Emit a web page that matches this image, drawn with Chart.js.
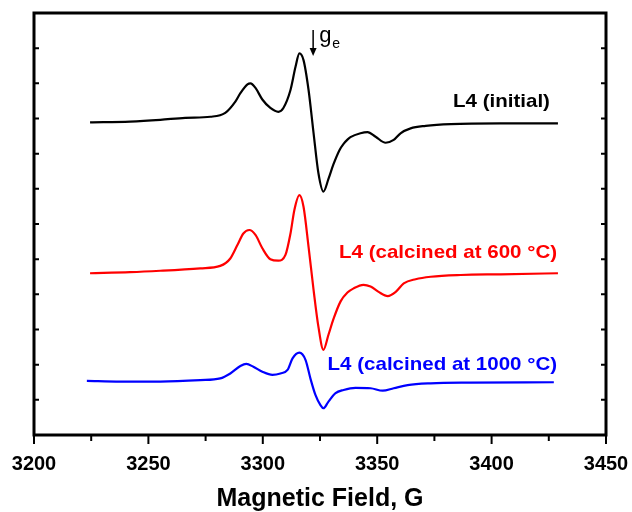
<!DOCTYPE html>
<html>
<head>
<meta charset="utf-8">
<script src="https://cdn.jsdelivr.net/npm/chart.js@4.4.0/dist/chart.umd.min.js"></script>
<style>
  html, body { margin: 0; padding: 0; background: #fff; }
</style>
</head>
<body>
<canvas id="epr" width="632" height="512"></canvas>
<script>
// field (G) and signal (arb. units, stacked)
const fieldInitial = [3224.5, 3242.0, 3255.2, 3266.1, 3277.1, 3283.6, 3288.0, 3290.2, 3293.3, 3294.6, 3296.8, 3299.8, 3303.3, 3306.8, 3309.0, 3312.1, 3314.3, 3316.0, 3317.8, 3320.0, 3322.2, 3324.3, 3326.5, 3328.7, 3330.9, 3333.5, 3335.3, 3337.0, 3338.3, 3342.7, 3345.8, 3349.3, 3353.7, 3357.2, 3360.2, 3364.6, 3371.2, 3382.1, 3404.0, 3429.0];
const signalInitial = [8.89, 8.91, 8.96, 9.02, 9.05, 9.16, 9.48, 9.72, 9.97, 10.00, 9.87, 9.54, 9.30, 9.19, 9.30, 9.81, 10.47, 10.85, 10.66, 9.81, 8.58, 7.45, 6.92, 7.28, 7.70, 8.10, 8.28, 8.40, 8.47, 8.58, 8.61, 8.48, 8.31, 8.39, 8.58, 8.72, 8.79, 8.84, 8.86, 8.86];

const field600 = [3224.5, 3242.0, 3255.2, 3272.7, 3281.4, 3285.8, 3288.9, 3291.5, 3294.1, 3296.8, 3299.8, 3303.3, 3306.8, 3309.9, 3312.1, 3313.8, 3316.0, 3317.8, 3320.0, 3322.2, 3324.3, 3326.5, 3328.7, 3330.9, 3334.0, 3337.0, 3339.7, 3344.0, 3347.1, 3350.6, 3354.6, 3358.1, 3361.6, 3366.8, 3373.4, 3386.5, 3404.0, 3429.0];
const signal600 = [4.60, 4.63, 4.67, 4.74, 4.81, 5.02, 5.40, 5.73, 5.83, 5.69, 5.31, 5.00, 4.96, 5.12, 5.73, 6.40, 6.82, 6.49, 5.35, 4.12, 3.08, 2.42, 2.85, 3.30, 3.80, 4.05, 4.17, 4.27, 4.22, 4.07, 3.95, 4.07, 4.31, 4.43, 4.50, 4.55, 4.57, 4.60];

const field1000 = [3223.1, 3237.7, 3255.2, 3272.7, 3281.4, 3285.8, 3290.2, 3292.8, 3295.9, 3299.8, 3304.2, 3307.7, 3310.8, 3313.0, 3316.0, 3318.7, 3320.8, 3323.0, 3325.2, 3326.5, 3328.7, 3331.8, 3335.3, 3340.5, 3347.1, 3352.4, 3357.2, 3363.3, 3373.4, 3390.9, 3427.2];
const signal1000 = [1.54, 1.52, 1.52, 1.56, 1.61, 1.75, 1.96, 2.02, 1.94, 1.80, 1.71, 1.75, 1.85, 2.18, 2.34, 2.13, 1.61, 1.14, 0.85, 0.76, 0.95, 1.19, 1.28, 1.34, 1.33, 1.26, 1.33, 1.42, 1.47, 1.49, 1.50];

const seriesNames = ["L4 (initial)", "L4 (calcined at 600 °C)", "L4 (calcined at 1000 °C)"];
const seriesColors = ["#000000", "#ff0000", "#0000ff"];
const xTicks = [3200, 3250, 3300, 3350, 3400, 3450];
const geField = 3322;

const FONT = "'Liberation Sans', Arial, sans-serif";

function toPoints(xs, ys) { return xs.map((x, i) => ({ x: x, y: ys[i] })); }

// frame, inward y ticks, outward x ticks (major + minor)
const framePlugin = {
    id: "frame",
    afterDraw(chart) {
        const { ctx, chartArea: a, scales } = chart;
        ctx.save();
        ctx.strokeStyle = "#000";
        ctx.lineWidth = 2;
        scales.x.ticks.forEach(t => {
            const px = scales.x.getPixelForValue(t.value);
            const len = xTicks.includes(t.value) ? 9 : 6;
            ctx.beginPath();
            ctx.moveTo(px, a.bottom);
            ctx.lineTo(px, a.bottom + len);
            ctx.stroke();
        });
        for (let v = 1; v < 12; v++) {
            const py = scales.y.getPixelForValue(v);
            ctx.beginPath();
            ctx.moveTo(a.left, py); ctx.lineTo(a.left + 5, py);
            ctx.moveTo(a.right, py); ctx.lineTo(a.right - 5, py);
            ctx.stroke();
        }
        ctx.lineWidth = 3;
        ctx.strokeRect(a.left, a.top, a.right - a.left, a.bottom - a.top);
        ctx.restore();
    }
};

// curve labels and the g_e marker
const notePlugin = {
    id: "notes",
    afterDatasetsDraw(chart) {
        const { ctx, scales: { x, y } } = chart;
        const spots = [[3425.5, 9.48], [3428.6, 5.17], [3428.6, 1.99]];
        ctx.save();
        ctx.font = "bold 19px " + FONT;
        ctx.textAlign = "right";
        ctx.textBaseline = "middle";
        seriesNames.forEach((name, i) => {
            ctx.save();
            ctx.translate(x.getPixelForValue(spots[i][0]), y.getPixelForValue(spots[i][1]));
            ctx.scale(1.08, 1);
            ctx.fillStyle = seriesColors[i];
            ctx.fillText(name, 0, 0);
            ctx.restore();
        });

        // arrow pointing down at g_e
        const ax = x.getPixelForValue(geField);
        const top = y.getPixelForValue(11.52);
        const tip = y.getPixelForValue(10.78);
        ctx.strokeStyle = "#000";
        ctx.fillStyle = "#000";
        ctx.lineWidth = 1.5;
        ctx.beginPath();
        ctx.moveTo(ax, top);
        ctx.lineTo(ax, tip - 6);
        ctx.stroke();
        ctx.beginPath();
        ctx.moveTo(ax - 3.5, tip - 8);
        ctx.lineTo(ax + 3.5, tip - 8);
        ctx.lineTo(ax, tip);
        ctx.closePath();
        ctx.fill();

        ctx.textAlign = "left";
        ctx.textBaseline = "alphabetic";
        ctx.font = "22px " + FONT;
        ctx.fillText("g", ax + 6, top + 12);
        ctx.font = "14px " + FONT;
        ctx.fillText("e", ax + 19, top + 18);
        ctx.restore();
    }
};

const datasets = [
    toPoints(fieldInitial, signalInitial),
    toPoints(field600, signal600),
    toPoints(field1000, signal1000)
].map((pts, i) => ({
    label: seriesNames[i],
    data: pts,
    borderColor: seriesColors[i],
    borderWidth: 2.2,
    pointRadius: 0,
    cubicInterpolationMode: "monotone",
    fill: false
}));

new Chart(document.getElementById("epr"), {
    type: "line",
    data: { datasets: datasets },
    options: {
        responsive: false,
        animation: false,
        layout: { padding: { left: 34, right: 26, top: 13, bottom: 0 } },
        plugins: {
            legend: { display: false },
            tooltip: { enabled: false }
        },
        scales: {
            x: {
                type: "linear",
                min: 3200,
                max: 3450,
                grid: { display: false, drawTicks: false },
                border: { display: false },
                ticks: {
                    stepSize: 25,
                    padding: 17,
                    color: "#000",
                    font: { family: FONT, size: 20, weight: "bold" },
                    maxRotation: 0,
                    autoSkip: false,
                    callback: v => xTicks.includes(v) ? String(v) : ""
                },
                title: {
                    display: true,
                    text: "Magnetic Field, G",
                    color: "#000",
                    font: { family: FONT, size: 25, weight: "bold", lineHeight: 1 },
                    padding: 0
                },
                afterFit(scale) {
                    scale.height = 77;
                    scale.paddingLeft = 0;
                    scale.paddingRight = 0;
                }
            },
            y: {
                display: false,
                min: 0,
                max: 12,
                ticks: { stepSize: 1 }
            }
        }
    },
    plugins: [framePlugin, notePlugin]
});
</script>
</body>
</html>
